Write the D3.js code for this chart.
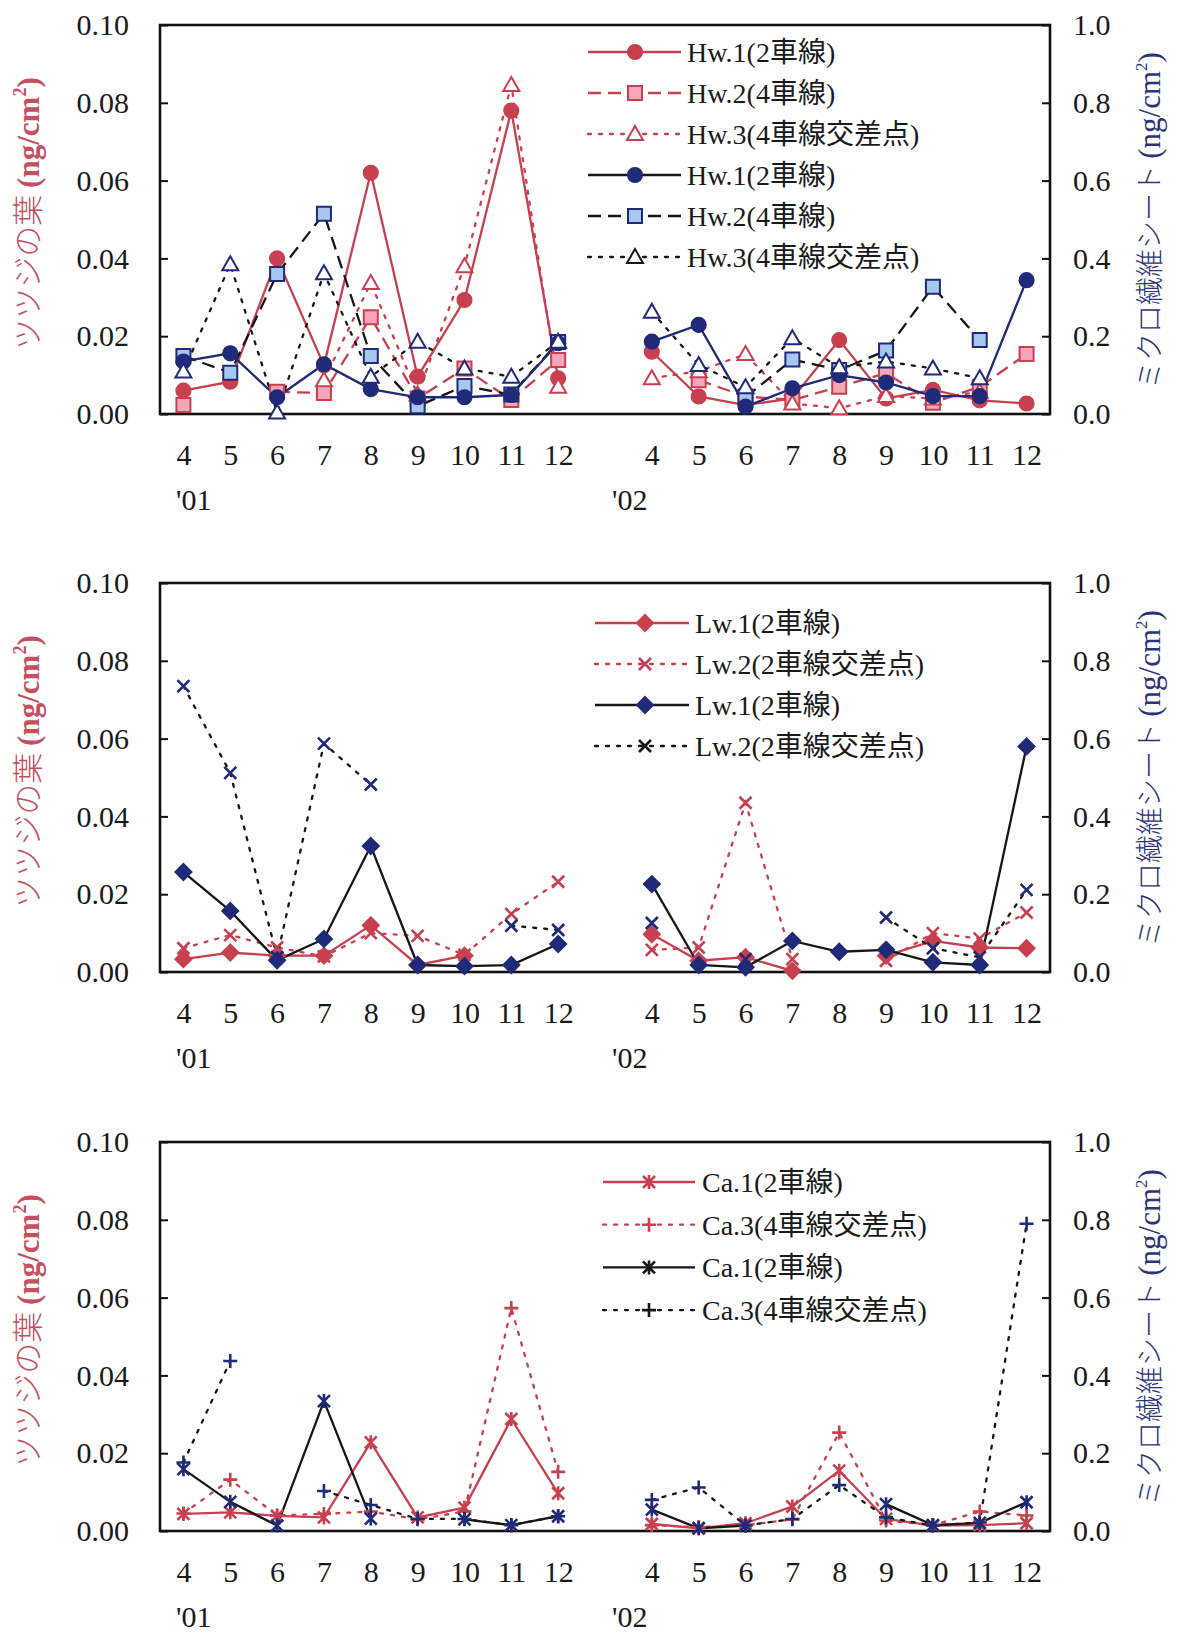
<!DOCTYPE html>
<html>
<head>
<meta charset="utf-8">
<script src="https://cdn.jsdelivr.net/npm/d3@7"></script>
<style>
  body { margin: 0; background: #fff; }
  text { font-family: "Liberation Serif", "Noto Sans CJK JP", serif; }
</style>
</head>
<body>
<svg id="chart" width="1183" height="1640"></svg>
<script>
// categories
const months = ["4", "5", "6", "7", "8", "9", "10", "11", "12"];
const yearLabels = ["'01", "'02"];
const leafTicks = [0, 0.02, 0.04, 0.06, 0.08, 0.10];
const sheetTicks = [0, 0.2, 0.4, 0.6, 0.8, 1.0];

// Hw panel : leaf (left axis, ng/cm2)
const hw1Leaf01 = [0.006, 0.0083, 0.040, 0.0125, 0.062, 0.0096, 0.0293, 0.078, 0.0092];
const hw1Leaf02 = [0.016, 0.0045, 0.0023, 0.004, 0.019, 0.004, 0.0062, 0.0035, 0.0027];
const hw2Leaf01 = [0.0023, null, 0.0057, 0.0054, 0.0249, 0.004, 0.0117, 0.0036, 0.0139];
const hw2Leaf02 = [null, 0.0087, 0.0045, 0.0036, 0.007, 0.0105, 0.0029, 0.007, 0.0154];
const hw3Leaf01 = [null, null, null, 0.0087, 0.0337, 0.005, 0.038, 0.0846, 0.007];
const hw3Leaf02 = [0.0092, 0.011, 0.0154, 0.0027, 0.0015, 0.0046, 0.004, 0.0057, null];
// Hw panel : sheet (right axis)
const hw1Sheet01 = [0.135, 0.156, 0.043, 0.128, 0.064, 0.043, 0.043, 0.049, 0.182];
const hw1Sheet02 = [0.186, 0.229, 0.019, 0.066, 0.100, 0.081, 0.046, 0.046, 0.344];
const hw2Sheet01 = [0.149, 0.106, 0.36, 0.515, 0.149, 0.02, 0.072, 0.05, 0.185];
const hw2Sheet02 = [null, null, 0.043, 0.14, 0.113, 0.163, 0.327, 0.19, null];
const hw3Sheet01 = [0.109, 0.385, 0.004, 0.362, 0.096, 0.186, 0.117, 0.096, 0.186];
const hw3Sheet02 = [0.263, 0.126, 0.069, 0.195, 0.12, 0.135, 0.117, 0.092, null];

// Lw panel
const lw1Leaf01 = [0.0033, 0.005, 0.0042, 0.0042, 0.012, 0.0018, 0.0042, null, null];
const lw1Leaf02 = [0.0097, 0.0029, 0.0038, 0.0003, null, 0.0042, 0.008, 0.0063, 0.0061];
const lw2Leaf01 = [0.0061, 0.0095, 0.0063, 0.004, 0.010, 0.0093, 0.0044, 0.0149, 0.0232];
const lw2Leaf02 = [0.0057, 0.0063, 0.0435, 0.0033, null, 0.0029, 0.010, 0.0086, 0.0153];
const lw1Sheet01 = [0.257, 0.157, 0.030, 0.085, 0.324, 0.018, 0.015, 0.018, 0.072];
const lw1Sheet02 = [0.226, 0.018, 0.012, 0.080, 0.052, 0.057, 0.025, 0.018, 0.58];
const lw2Sheet01 = [0.735, 0.512, 0.038, 0.587, 0.482, null, null, 0.119, 0.108];
const lw2Sheet02 = [0.126, null, 0.033, null, null, 0.14, 0.061, 0.038, 0.211];

// Ca panel
const ca1Leaf01 = [0.0044, 0.0048, 0.0039, 0.0035, 0.0228, 0.0035, 0.006, 0.0288, 0.0097];
const ca1Leaf02 = [0.0018, 0.0007, 0.002, 0.0063, 0.0155, 0.0031, 0.0014, 0.0015, 0.002];
const ca3Leaf01 = [0.0045, 0.0132, 0.004, 0.0044, 0.005, 0.003, 0.005, 0.0573, 0.0152];
const ca3Leaf02 = [0.0015, 0.001, 0.0015, 0.003, 0.0253, 0.0027, 0.0015, 0.005, 0.004];
const ca1Sheet01 = [0.159, 0.075, 0.014, 0.334, 0.032, null, 0.03, 0.015, 0.038];
const ca1Sheet02 = [0.055, 0.007, 0.014, null, null, 0.069, 0.015, 0.021, 0.074];
const ca3Sheet01 = [0.176, 0.437, null, 0.103, 0.067, 0.031, 0.031, 0.015, 0.038];
const ca3Sheet02 = [0.08, 0.112, 0.014, 0.031, 0.118, 0.035, 0.014, 0.022, 0.79];

const RED = "#c8404f", PINK = "#f5a7b9", NAVY = "#1f2a78", LBLUE = "#a8c7ef", INK = "#161616";
const DASH = "13,7", DOT = "3,8";

const plotLeft = 160, plotRight = 1050, plotH = 389;

const panels = [
  {
    top: 25, legendY: 52, legendStep: 41, legendX: [588, 681, 635, 687],
    series: [
      {label: "Hw.1(2車線)", v01: hw1Leaf01, v02: hw1Leaf02, axis: "leaf", line: RED, dash: null, marker: "circle", stroke: RED, fill: RED},
      {label: "Hw.2(4車線)", v01: hw2Leaf01, v02: hw2Leaf02, axis: "leaf", line: RED, dash: DASH, marker: "square", stroke: RED, fill: PINK},
      {label: "Hw.3(4車線交差点)", v01: hw3Leaf01, v02: hw3Leaf02, axis: "leaf", line: RED, dash: DOT, marker: "triangle", stroke: RED, fill: "#fff"},
      {label: "Hw.2(4車線)", v01: hw2Sheet01, v02: hw2Sheet02, axis: "sheet", line: INK, dash: DASH, marker: "square", stroke: NAVY, fill: LBLUE, order: 4},
      {label: "Hw.1(2車線)", v01: hw1Sheet01, v02: hw1Sheet02, axis: "sheet", line: NAVY, dash: null, marker: "circle", stroke: NAVY, fill: NAVY, legendLine: INK, order: 3},
      {label: "Hw.3(4車線交差点)", v01: hw3Sheet01, v02: hw3Sheet02, axis: "sheet", line: INK, dash: DOT, marker: "triangle", stroke: NAVY, fill: "#fff", legendStroke: INK}
    ]
  },
  {
    top: 583, legendY: 623, legendStep: 41, legendX: [595, 689, 645, 695],
    series: [
      {label: "Lw.1(2車線)", v01: lw1Leaf01, v02: lw1Leaf02, axis: "leaf", line: RED, dash: null, marker: "diamond", stroke: RED, fill: RED},
      {label: "Lw.2(2車線交差点)", v01: lw2Leaf01, v02: lw2Leaf02, axis: "leaf", line: RED, dash: DOT, marker: "cross", stroke: RED, fill: "none"},
      {label: "Lw.1(2車線)", v01: lw1Sheet01, v02: lw1Sheet02, axis: "sheet", line: INK, dash: null, marker: "diamond", stroke: NAVY, fill: NAVY},
      {label: "Lw.2(2車線交差点)", v01: lw2Sheet01, v02: lw2Sheet02, axis: "sheet", line: INK, dash: DOT, marker: "cross", stroke: NAVY, fill: "none", legendStroke: INK}
    ]
  },
  {
    top: 1142, legendY: 1182, legendStep: 42.7, legendX: [603, 695, 649, 702],
    series: [
      {label: "Ca.1(2車線)", v01: ca1Leaf01, v02: ca1Leaf02, axis: "leaf", line: RED, dash: null, marker: "star", stroke: RED, fill: "none"},
      {label: "Ca.3(4車線交差点)", v01: ca3Leaf01, v02: ca3Leaf02, axis: "leaf", line: RED, dash: DOT, marker: "plus", stroke: RED, fill: "none"},
      {label: "Ca.1(2車線)", v01: ca1Sheet01, v02: ca1Sheet02, axis: "sheet", line: INK, dash: null, marker: "star", stroke: NAVY, fill: "none", legendStroke: INK},
      {label: "Ca.3(4車線交差点)", v01: ca3Sheet01, v02: ca3Sheet02, axis: "sheet", line: INK, dash: DOT, marker: "plus", stroke: NAVY, fill: "none", legendStroke: INK}
    ]
  }
];

const svg = d3.select("#chart");
const xLabels = months.concat([""], months);

const x = d3.scalePoint()
  .domain(d3.range(xLabels.length))
  .range([plotLeft, plotRight])
  .padding(0.5);

function markerPath(type) {
  switch (type) {
    case "circle": return d3.symbol(d3.symbolCircle, 175)();
    case "square": return "M-7,-7H7V7H-7Z";
    case "triangle": return "M0,-8L8,6L-8,6Z";
    case "diamond": return "M0,-8L8,0L0,8L-8,0Z";
    case "cross": return "M-6,-6L6,6M6,-6L-6,6";
    case "plus": return "M-7,0H7M0,-7V7";
    case "star": return "M-6,-6L6,6M6,-6L-6,6M0,-7V7";
  }
}

function drawMarker(g, s, cx, cy, strokeOverride) {
  const filled = s.fill !== "none";
  g.append("path")
    .attr("d", markerPath(s.marker))
    .attr("transform", `translate(${cx},${cy})`)
    .attr("fill", s.fill)
    .attr("stroke", strokeOverride || s.stroke)
    .attr("stroke-width", s.marker === "circle" ? 1.2 : (filled ? 2 : 2.6));
}

function drawPanel(p) {
  const bottom = p.top + plotH;
  const yLeaf = d3.scaleLinear().domain([0, 0.10]).range([bottom, p.top]);
  const ySheet = d3.scaleLinear().domain([0, 1.0]).range([bottom, p.top]);
  const g = svg.append("g");

  // frame
  g.append("rect")
    .attr("x", plotLeft).attr("y", p.top)
    .attr("width", plotRight - plotLeft).attr("height", plotH)
    .attr("fill", "none").attr("stroke", "#111").attr("stroke-width", 2.6);

  const leftAxis = g.append("g")
    .attr("transform", `translate(${plotLeft},0)`)
    .call(d3.axisLeft(yLeaf).tickValues(leafTicks).tickFormat(d3.format(".2f"))
      .tickSizeInner(-8).tickSizeOuter(0).tickPadding(31));
  const rightAxis = g.append("g")
    .attr("transform", `translate(${plotRight},0)`)
    .call(d3.axisRight(ySheet).tickValues(sheetTicks).tickFormat(d3.format(".1f"))
      .tickSizeInner(-8).tickSizeOuter(0).tickPadding(23));
  const xAxis = g.append("g")
    .attr("transform", `translate(0,${bottom})`)
    .call(d3.axisBottom(x).tickFormat(i => xLabels[i]).tickSize(0).tickPadding(30));

  [leftAxis, rightAxis, xAxis].forEach(a => {
    a.select(".domain").remove();
    a.selectAll("line").attr("stroke", "#111").attr("stroke-width", 2);
    a.selectAll("text").attr("font-size", "30px").attr("fill", "#1a1a1a")
      .attr("font-family", "Liberation Serif");
  });

  g.append("text").attr("x", 176).attr("y", bottom + 96)
    .attr("font-size", "30px").attr("fill", "#1a1a1a").text(yearLabels[0]);
  g.append("text").attr("x", 612).attr("y", bottom + 96)
    .attr("font-size", "30px").attr("fill", "#1a1a1a").text(yearLabels[1]);

  // axis titles
  const midY = p.top + plotH / 2;
  const lt = g.append("text")
    .attr("transform", `translate(39,${midY - 6}) rotate(-90)`)
    .attr("text-anchor", "middle").attr("fill", "#c5505f");
  lt.append("tspan").attr("font-family", "Noto Sans CJK JP").attr("font-size", "31px")
    .attr("font-weight", 300).text("ツツジの葉 ");
  lt.append("tspan").attr("font-weight", "bold").attr("font-size", "31px").text("(ng/cm");
  lt.append("tspan").attr("font-weight", "bold").attr("font-size", "18px").attr("dy", -13).text("2");
  lt.append("tspan").attr("font-weight", "bold").attr("font-size", "31px").attr("dy", 13).text(")");

  const rt = g.append("text")
    .attr("transform", `translate(1160,${midY + 1}) rotate(-90)`)
    .attr("text-anchor", "middle").attr("fill", "#2a3478");
  rt.append("tspan").attr("font-family", "Noto Sans CJK JP").attr("font-size", "28px")
    .attr("font-weight", 300).text("ミクロ繊維シート ");
  rt.append("tspan").attr("font-size", "31px").text("(ng/cm");
  rt.append("tspan").attr("font-size", "17px").attr("dy", -13).text("2");
  rt.append("tspan").attr("font-size", "31px").attr("dy", 13).text(")");

  // lines
  const rows = p.series.map(s => {
    const vals = s.v01.concat([null], s.v02);
    const y = s.axis === "leaf" ? yLeaf : ySheet;
    return {s: s, y: y, pts: vals.map((v, i) => ({i: i, v: v}))};
  });

  rows.forEach(r => {
    const line = d3.line()
      .defined(d => d.v != null)
      .x(d => x(d.i))
      .y(d => r.y(d.v));
    g.append("path")
      .attr("d", line(r.pts))
      .attr("fill", "none")
      .attr("stroke", r.s.line)
      .attr("stroke-width", 2.3)
      .attr("stroke-dasharray", r.s.dash)
      .attr("stroke-linecap", r.s.dash === DOT ? "round" : "butt");
  });

  rows.forEach(r => {
    r.pts.filter(d => d.v != null).forEach(d => drawMarker(g, r.s, x(d.i), r.y(d.v)));
  });

  // legend (order key keeps the reference's legend sequence)
  const legendItems = p.series.map((s, k) => ({s: s, k: s.order != null ? s.order : k}))
    .sort((a, b) => a.k - b.k);
  legendItems.forEach((item, k) => {
    const s = item.s;
    const ly = p.legendY + k * p.legendStep;
    g.append("line")
      .attr("x1", lx(p, 0)).attr("x2", lx(p, 1)).attr("y1", ly).attr("y2", ly)
      .attr("stroke", s.legendLine || s.line)
      .attr("stroke-width", 2.3)
      .attr("stroke-dasharray", s.dash)
      .attr("stroke-linecap", s.dash === DOT ? "round" : "butt");
    drawMarker(g, s, lx(p, 2), ly, s.legendStroke);
    g.append("text")
      .attr("x", lx(p, 3)).attr("y", ly).attr("dy", "0.35em")
      .attr("font-size", "28px").attr("fill", "#1a1a1a")
      .text(s.label);
  });
}

function lx(p, k) { return p.legendX[k]; }

panels.forEach(drawPanel);
</script>
</body>
</html>
